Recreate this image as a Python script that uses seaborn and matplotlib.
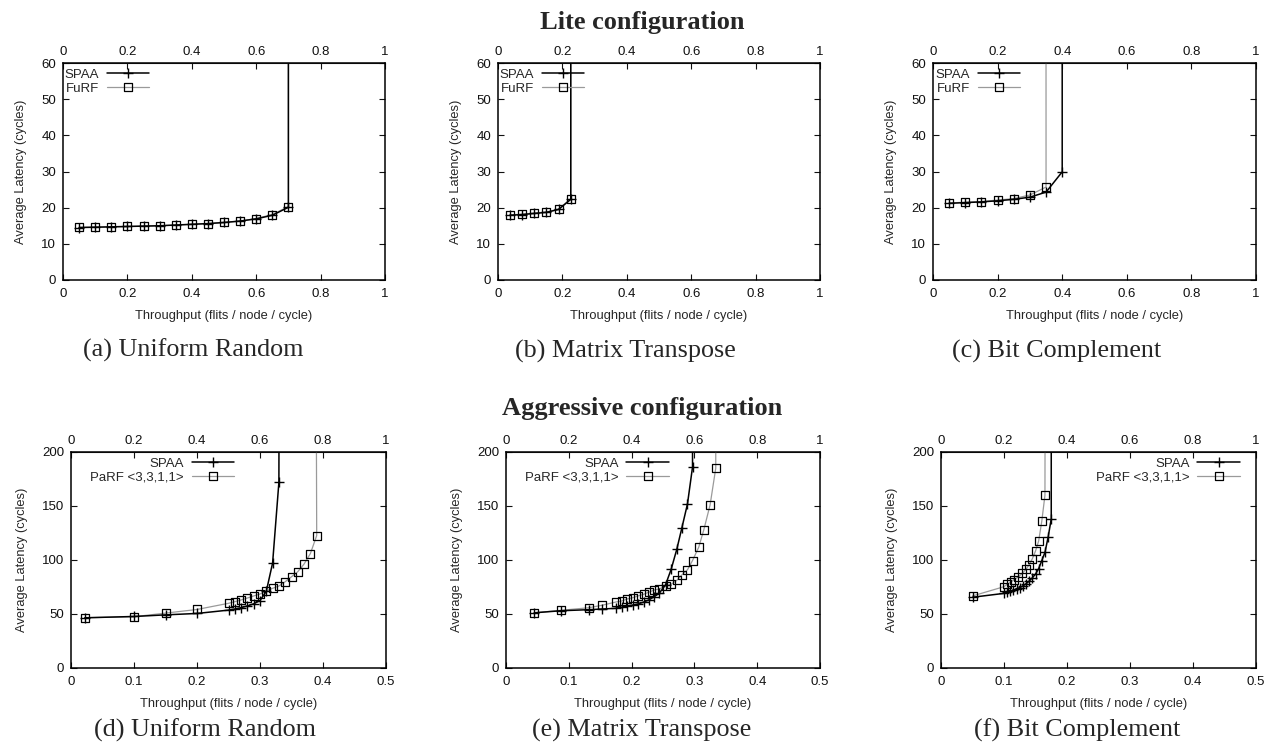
import matplotlib
matplotlib.use('Agg')
import matplotlib.pyplot as plt
import seaborn as sns
from matplotlib.path import Path
from matplotlib.ticker import FormatStrFormatter

sns.set_style('ticks')
plt.rcParams['font.family'] = ['Liberation Sans', 'DejaVu Sans']

# ---- Lite configuration ----
lite_ur_x = [0.05, 0.10, 0.15, 0.20, 0.25, 0.30, 0.35, 0.40, 0.45, 0.50, 0.55, 0.60, 0.65, 0.70, 0.70]
lite_ur_spaa = [14.5, 14.6, 14.7, 14.8, 14.9, 15.0, 15.2, 15.4, 15.6, 15.9, 16.3, 16.9, 17.9, 20.1, 500]
lite_ur_furf = [14.6, 14.6, 14.7, 14.8, 14.9, 15.0, 15.2, 15.4, 15.6, 15.9, 16.3, 17.0, 18.1, 20.3, 500]

lite_mt_x = [0.037, 0.075, 0.113, 0.150, 0.188, 0.226, 0.226]
lite_mt_spaa = [17.9, 18.1, 18.4, 18.7, 19.5, 22.3, 500]
lite_mt_furf = [18.0, 18.2, 18.5, 18.8, 19.6, 22.5, 500]

lite_bc_spaa_x = [0.05, 0.10, 0.15, 0.20, 0.25, 0.30, 0.35, 0.40, 0.40]
lite_bc_spaa = [21.2, 21.4, 21.6, 21.9, 22.3, 22.9, 24.3, 29.9, 500]
lite_bc_furf_x = [0.05, 0.10, 0.15, 0.20, 0.25, 0.30, 0.35, 0.349]
lite_bc_furf = [21.3, 21.5, 21.7, 22.1, 22.5, 23.5, 25.7, 500]

# ---- Aggressive configuration ----
agg_ur_spaa_x = [0.022, 0.10, 0.15, 0.20, 0.25, 0.26, 0.27, 0.28, 0.29, 0.30, 0.31, 0.32, 0.33, 0.331]
agg_ur_spaa = [46.5, 47.7, 49.2, 50.5, 53.6, 54.6, 55.9, 57.5, 59.4, 62.5, 71.0, 97.2, 172.0, 500]
agg_ur_parf_x = [0.022, 0.10, 0.15, 0.20, 0.25, 0.26, 0.27, 0.28, 0.29, 0.30, 0.31, 0.32, 0.33,
                 0.34, 0.35, 0.36, 0.37, 0.38, 0.39, 0.388]
agg_ur_parf = [46.5, 47.5, 50.8, 54.2, 59.9, 61.4, 63.0, 64.8, 66.7, 68.5, 71.3, 73.8, 75.9,
               79.9, 84.5, 89.2, 96.3, 106.0, 122.6, 500]

agg_mt_spaa_x = [0.045, 0.087, 0.132, 0.153, 0.175, 0.184, 0.193, 0.202, 0.210, 0.219, 0.227,
                 0.236, 0.244, 0.254, 0.263, 0.272, 0.280, 0.289, 0.297, 0.298]
agg_mt_spaa = [51.1, 53.0, 54.0, 54.6, 55.3, 56.2, 57.4, 58.3, 59.3, 61.0, 62.9,
               66.0, 69.2, 77.0, 91.4, 110.0, 129.6, 152.0, 186.0, 500]
agg_mt_parf_x = [0.045, 0.087, 0.132, 0.153, 0.175, 0.184, 0.193, 0.202, 0.210, 0.219, 0.227,
                 0.236, 0.244, 0.254, 0.263, 0.272, 0.280, 0.289, 0.297, 0.307, 0.315, 0.325,
                 0.334, 0.334]
agg_mt_parf = [51.1, 53.4, 55.8, 58.1, 61.1, 62.0, 63.9, 65.1, 66.7, 68.2, 70.1,
               72.2, 73.2, 75.9, 77.5, 81.2, 86.2, 91.0, 99.5, 112.0, 128.0, 151.0,
               185.0, 500]

agg_bc_spaa_x = [0.05, 0.10, 0.105, 0.11, 0.115, 0.12, 0.125, 0.13, 0.135, 0.14, 0.145,
                 0.15, 0.155, 0.16, 0.165, 0.17, 0.175, 0.175]
agg_bc_spaa = [65.5, 69.1, 70.0, 71.0, 72.0, 73.2, 74.5, 76.0, 78.0, 80.5, 83.5,
               87.0, 92.0, 99.5, 107.0, 121.0, 138.0, 500]
agg_bc_parf_x = [0.05, 0.10, 0.105, 0.111, 0.116, 0.123, 0.129, 0.135, 0.140, 0.145,
                 0.150, 0.155, 0.160, 0.165, 0.166]
agg_bc_parf = [66.7, 75.3, 77.5, 79.6, 81.8, 84.5, 87.6, 91.4, 95.7, 101.2,
               108.3, 117.6, 136.0, 160.0, 500]

captions = ['(a) Uniform Random', '(b) Matrix Transpose', '(c) Bit Complement',
            '(d) Uniform Random', '(e) Matrix Transpose', '(f) Bit Complement']

W, H = 1268, 745
fig = plt.figure(figsize=(W / 100, H / 100), dpi=100)

# gnuplot style box with a dot in the middle
box_dot = Path([(-1, -1), (1, -1), (1, 1), (-1, 1), (-1, -1),
                (-0.07, -0.07), (0.07, -0.07), (0.07, 0.07), (-0.07, 0.07), (-0.07, -0.07)],
               [Path.MOVETO, Path.LINETO, Path.LINETO, Path.LINETO, Path.CLOSEPOLY,
                Path.MOVETO, Path.LINETO, Path.LINETO, Path.LINETO, Path.CLOSEPOLY])


def px_axes(l, r, t, b):
    return fig.add_axes([l / W, 1 - b / H, (r - l) / W, (b - t) / H])


def style_axes(ax, xmax, ymax, ystep, scale):
    ax.set_xlim(0, xmax)
    ax.set_ylim(0, ymax)
    ax.set_yticks(range(0, ymax + 1, ystep))
    ax.xaxis.set_major_formatter(FormatStrFormatter('%g'))
    ax.tick_params(direction='in', length=4, width=0.8, labelsize=9.5,
                   top=False, right=True, colors='#111111')
    ax.tick_params(axis='x', pad=6)
    ax.tick_params(axis='y', pad=5)
    for s in ax.spines.values():
        s.set_linewidth(1.1)
        s.set_color('black')
    sec = ax.secondary_xaxis('top', functions=(lambda v: v * scale, lambda v: v / scale))
    sec.set_xticks([0, 0.2, 0.4, 0.6, 0.8, 1.0])
    sec.xaxis.set_major_formatter(FormatStrFormatter('%g'))
    sec.tick_params(direction='in', length=4, width=0.8, labelsize=9.5, colors='#111111')
    ax.set_xlabel('Throughput (flits / node / cycle)', fontsize=9.3, labelpad=7)
    ax.set_ylabel('Average Latency (cycles)', fontsize=9.3, labelpad=10)


def draw(ax, sx, sy, px, py, name):
    sns.lineplot(x=px, y=py, ax=ax, estimator=None, sort=False, color='#9a9a9a', lw=0.9,
                 marker=box_dot, markersize=6, markerfacecolor='none', markeredgecolor='black',
                 markeredgewidth=0.9, label=name, zorder=2)
    sns.lineplot(x=sx, y=sy, ax=ax, estimator=None, sort=False, color='black', lw=1.1,
                 marker='+', markersize=6.5, markeredgecolor='black', markeredgewidth=1.0,
                 label='SPAA', zorder=3)


def legend(ax, xr):
    h, l = ax.get_legend_handles_labels()
    ax.legend(h[::-1], l[::-1], loc='upper right', bbox_to_anchor=(xr, 1.0), frameon=False,
              markerfirst=False, fontsize=9.5, handlelength=3.2, handletextpad=0.6,
              labelspacing=0.15, borderaxespad=0.2, borderpad=0.2)


ax_a = px_axes(63, 385, 63, 280)
draw(ax_a, lite_ur_x, lite_ur_spaa, lite_ur_x, lite_ur_furf, 'FuRF')
style_axes(ax_a, 1, 60, 10, 1)
legend(ax_a, 0.285)

ax_b = px_axes(498, 820, 63, 280)
draw(ax_b, lite_mt_x, lite_mt_spaa, lite_mt_x, lite_mt_furf, 'FuRF')
style_axes(ax_b, 1, 60, 10, 1)
legend(ax_b, 0.285)

ax_c = px_axes(933, 1256, 63, 280)
draw(ax_c, lite_bc_spaa_x, lite_bc_spaa, lite_bc_furf_x, lite_bc_furf, 'FuRF')
style_axes(ax_c, 1, 60, 10, 1)
legend(ax_c, 0.285)

ax_d = px_axes(71, 386, 452, 668)
draw(ax_d, agg_ur_spaa_x, agg_ur_spaa, agg_ur_parf_x, agg_ur_parf, 'PaRF <3,3,1,1>')
style_axes(ax_d, 0.5, 200, 50, 2)
legend(ax_d, 0.535)

ax_e = px_axes(506, 820, 452, 668)
draw(ax_e, agg_mt_spaa_x, agg_mt_spaa, agg_mt_parf_x, agg_mt_parf, 'PaRF <3,3,1,1>')
style_axes(ax_e, 0.5, 200, 50, 2)
legend(ax_e, 0.535)

ax_f = px_axes(941, 1256, 452, 668)
draw(ax_f, agg_bc_spaa_x, agg_bc_spaa, agg_bc_parf_x, agg_bc_parf, 'PaRF <3,3,1,1>')
style_axes(ax_f, 0.5, 200, 50, 2)
legend(ax_f, 0.965)

serif = ['Liberation Serif', 'DejaVu Serif']
fig.text(642 / W, 1 - 22 / H, 'Lite configuration', ha='center', va='center',
         fontsize=19, fontweight='bold', family=serif)
fig.text(642 / W, 1 - 408 / H, 'Aggressive configuration', ha='center', va='center',
         fontsize=19, fontweight='bold', family=serif)

cap_pos = [(193, 350), (625, 351), (1057, 351), (205, 730), (642, 730), (1077, 730)]
for (cx, cy), txt in zip(cap_pos, captions):
    fig.text(cx / W, 1 - cy / H, txt, ha='center', va='center', fontsize=18.8, family=serif)

fig.savefig('out.png', dpi=100)
